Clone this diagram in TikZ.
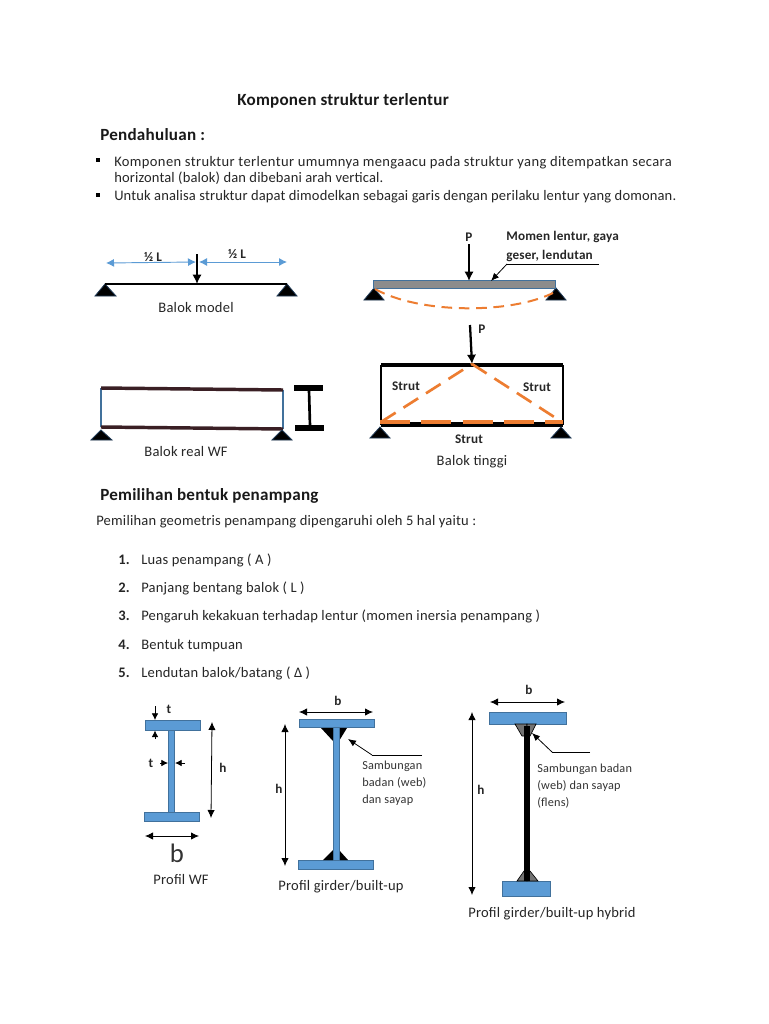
\documentclass[tikz,border=0pt]{standalone}
\usepackage{fontspec}
\setmainfont{Carlito}[LetterSpace=1.5]
\newfontfamily\lineA{Carlito}[LetterSpace=2.6]
\newfontfamily\lineB{Carlito}[LetterSpace=1.0]
\usetikzlibrary{arrows.meta}
\definecolor{steel}{HTML}{5B9BD5}
\definecolor{steeld}{HTML}{41719C}
\definecolor{orng}{HTML}{ED7D31}
\definecolor{dimb}{HTML}{5B9BD5}
\definecolor{navy}{HTML}{1F3A56}
\definecolor{maroon}{HTML}{3A1F24}
\tikzset{
  x=0.75pt,y=-0.75pt,
  txt/.style={inner sep=0pt,font=\fontsize{10.9pt}{14pt}\selectfont,text=black!85,anchor=base west},
  bt/.style={txt,font=\fontsize{10.9pt}{14pt}\selectfont\bfseries},
  head/.style={inner sep=0pt,font=\fontsize{12.8pt}{14pt}\selectfont\bfseries,text=black!90,anchor=base west},
  lab/.style={inner sep=0pt,font=\fontsize{9.9pt}{12pt}\selectfont\bfseries,text=black!85},
  labw/.style={lab,anchor=base west},
  small/.style={inner sep=0pt,font=\fontsize{9.2pt}{12pt}\selectfont,text=black!80,anchor=base west},
  support/.style={fill=black,draw=navy,line width=0.6pt},
  load/.style={draw=black,line width=1.7pt,-{Latex[length=7pt,width=7pt]}},
  dimblue/.style={draw=dimb,line width=0.7pt,{Latex[length=6pt,width=6pt]}-{Latex[length=6pt,width=6pt]}},
  dimk/.style={draw=black,line width=0.6pt,{Latex[length=6pt,width=5.5pt]}-{Latex[length=6pt,width=5.5pt]}},
  tick/.style={draw=black,line width=0.6pt,-{Latex[length=5pt,width=5pt]}},
  plate/.style={fill=steel,draw=steeld,line width=0.6pt},
  weld/.style={fill=black!55,draw=black,line width=0.5pt},
  bullet/.style={fill=black,inner sep=0pt,minimum size=3.4pt},
  leader/.style={draw=black,line width=0.6pt,-{Latex[length=6pt,width=5pt]}},
}
\begin{document}
\begin{tikzpicture}
\useasboundingbox (0,0) rectangle (768,1024);
\fill[white] (0,0) rectangle (768,1024);
% headings and body
\node[head] (h1) at (237,105) {Komponen struktur terlentur};
\node[head] (h2) at (100,140) {Pendahuluan :};
\node[bullet] (b1) at (98,160) {};
\node[txt] (p1) at (114,166) {\lineA Komponen struktur terlentur umumnya mengaacu pada struktur yang ditempatkan secara};
\node[txt] (p1b) at (114,182) {\lineB horizontal (balok) dan dibebani arah vertical.};
\node[bullet] (b2) at (98,195) {};
\node[txt] (p2) at (114,200) {\lineB Untuk analisa struktur dapat dimodelkan sebagai garis dengan perilaku lentur yang domonan.};
% Balok model
\coordinate (ma) at (105,284);
\coordinate (mb) at (287,284);
\coordinate (mc) at (197,284);
\coordinate (mt) at (197,254);
\fill[support] (ma) -- (95,296) -- (116,296) -- cycle;
\fill[support] (mb) -- (277,296) -- (297,296) -- cycle;
\draw[black,line width=1.5pt] (ma) -- (mb);
\draw[load] (mt) -- (mc);
\coordinate (d1) at (106,263); \coordinate (d2) at (196,262); \coordinate (d3) at (199,262); \coordinate (d4) at (287,262);
\draw[dimblue] (d1) -- (d2);
\draw[dimblue] (d3) -- (d4);
\node[lab] (lh1) at (153,257) {½ L};
\node[lab] (lh2) at (237,254) {½ L};
\node[txt,anchor=base] (c1) at (196,312) {Balok model};
% Balok real WF
\coordinate (ra) at (101,388); \coordinate (rb) at (283,390);
\coordinate (rc) at (101,427); \coordinate (rd) at (283,429);
\draw[steeld,line width=1.8pt] (ra) -- (rc);
\draw[steeld,line width=1.8pt] (rb) -- (rd);
\draw[maroon,line width=2.6pt] (ra) -- (rb);
\draw[maroon,line width=2.6pt] (rc) -- (rd);
\fill[support] (101,430) -- (91,440) -- (112,440) -- cycle;
\fill[support] (282,430) -- (272,440) -- (292,440) -- cycle;
\fill[black] (294,385) rectangle (323,391);
\fill[black] (295,425) rectangle (324,431);
\draw[black,line width=2pt] (309,390) -- (310,426);
\node[txt,anchor=base] (c2) at (186,456) {Balok real WF};
% Beam with P
\fill[support] (374,288) -- (364,300) -- (384,300) -- cycle;
\fill[support] (556,288) -- (546,300) -- (566,300) -- cycle;
\node[fill=black!45,draw=steeld,line width=0.8pt,minimum width=137pt,minimum height=5.5pt,inner sep=0pt] (beam) at (464.5,284.5) {};
\draw[orng,line width=1.5pt,dash pattern=on 8pt off 5pt] (375,289) .. controls (420,314) and (510,314) .. (553,293);
\node[lab] (P1) at (469,237) {P};
\draw[load] (469,244) -- (469,281);
\node[labw] (mm1) at (506,240) {Momen lentur, gaya};
\node[labw] (mm2) at (506,259) {geser, lendutan};
\coordinate (lm) at (599,264); \coordinate (lk) at (507,264); \coordinate (lt) at (491,281);
\draw[black,line width=0.6pt] (lm) -- (lk);
\draw[leader] (lk) -- (lt);
% Balok tinggi
\coordinate (ta) at (381,365); \coordinate (tb) at (563,365);
\coordinate (tc) at (381,424.5); \coordinate (td) at (563,424.5);
\draw[black,line width=1.2pt] (ta) -- (tc);
\draw[black,line width=1.2pt] (tb) -- (td);
\draw[black,line width=3.4pt] (ta) -- (tb);
\draw[black,line width=3.6pt] (tc) -- (td);
\fill[support] (380,427) -- (370,438) -- (390,438) -- cycle;
\fill[support] (561,427) -- (551,438) -- (571,438) -- cycle;
\coordinate (tp) at (472,364);
\draw[load] (470,325) -- (tp);
\node[lab] (P2) at (482,329) {P};
\draw[orng,line width=2pt,dash pattern=on 13pt off 7pt] (381,422) -- (tp);
\draw[orng,line width=2pt,dash pattern=on 13pt off 7pt] (tp) -- (562,422);
\draw[orng,line width=2.6pt,dash pattern=on 22.5pt off 8.5pt] (380,422) -- (563,422);
\node[lab] (s1) at (406,386) {Strut};
\node[lab] (s2) at (537,387) {Strut};
\node[lab] (s3) at (469,439) {Strut};
\node[txt,anchor=base] (c3) at (472,465) {Balok tinggi};
% section two
\node[head] (h3) at (100,500) {Pemilihan bentuk penampang};
\node[txt] (p3) at (96,525) {Pemilihan geometris penampang dipengaruhi oleh 5 hal yaitu :};
\node[bt] (n1) at (118,564) {1.};\node[txt] (t1) at (141,564) {Luas penampang ( A )};
\node[bt] (n2) at (118,592) {2.};\node[txt] (t2) at (141,592) {Panjang bentang balok ( L )};
\node[bt] (n3) at (118,620) {3.};\node[txt] (t3) at (141,620) {Pengaruh kekakuan terhadap lentur (momen inersia penampang )};
\node[bt] (n4) at (118,649) {4.};\node[txt] (t4) at (141,649) {Bentuk tumpuan};
\node[bt] (n5) at (118,677) {5.};\node[txt] (t5) at (141,677) {Lendutan balok/batang ( Δ )};
% Profil WF
\draw[plate] (145,720) rectangle (200,730);
\draw[plate] (144,812) rectangle (199,821);
\draw[plate] (168,730) rectangle (174,812);
\coordinate (wt1) at (155,706); \coordinate (wt2) at (155,720);
\coordinate (wt3) at (155,739); \coordinate (wt4) at (155,730.5);
\draw[tick] (wt1) -- (wt2);
\draw[tick] (wt3) -- (wt4);
\node[lab] (lt1) at (169,709) {t};
\node[lab] (lt2) at (151,763) {t};
\coordinate (wa) at (160,763); \coordinate (wb) at (168,763); \coordinate (wc) at (185,763); \coordinate (wd) at (175,763);
\draw[tick] (wa) -- (wb);
\draw[tick] (wc) -- (wd);
\draw[dimk] (212,722) -- (211,818);
\node[lab] (lh) at (223,768) {h};
\draw[dimk] (145,836) -- (199,836);
\node[inner sep=0pt,font=\fontsize{20pt}{20pt}\selectfont,text=black!80] (lb) at (177,853) {b};
\node[txt,anchor=base] (c4) at (181,884) {Profil WF};
% Profil girder
\draw[plate] (299,719) rectangle (374,727);
\draw[plate] (298,860) rectangle (373,869);
\fill[black] (321,728) -- (347,728) -- (339,741) -- (333,741) -- cycle;
\fill[black] (323,860) -- (348,860) -- (339,850) -- (333,850) -- cycle;
\draw[plate] (333,727) rectangle (339,860);
\draw[dimk] (299,712) -- (373,712);
\node[lab] (lb2) at (338,701) {b};
\draw[dimk] (285,724) -- (285,866);
\node[lab] (lh2b) at (279,789) {h};
\coordinate (ga) at (422,755); \coordinate (gb) at (372,755); \coordinate (gc) at (348,739);
\draw[black,line width=0.6pt] (ga) -- (gb);
\draw[leader] (gb) -- (gc);
\node[small] (g1) at (362,769) {Sambungan};
\node[small] (g2) at (362,786) {badan (web)};
\node[small] (g3) at (362,803) {dan sayap};
\node[txt,anchor=base] (c5) at (341,890) {Profil girder/built-up};
% Profil hybrid
\draw[plate] (489,712) rectangle (566,724);
\draw[plate] (502,881) rectangle (550,896);
\draw[weld] (515,724) -- (527,724) -- (527,736) -- (522,736) -- cycle;
\draw[weld] (536,724) -- (527,724) -- (527,736) -- (530,736) -- cycle;
\draw[weld] (517,881) -- (527,881) -- (527,871) -- (524,871) -- cycle;
\draw[weld] (538,881) -- (527,881) -- (527,871) -- (530,871) -- cycle;
\fill[black] (524,726) rectangle (530,881);
\draw[dimk] (490,702) -- (565,702);
\node[lab] (lb3) at (529,690) {b};
\draw[dimk] (472,712) -- (472,895);
\node[lab] (lh3) at (481,790) {h};
\coordinate (ha) at (590,752); \coordinate (hb) at (552,752); \coordinate (hc) at (532,733);
\draw[black,line width=0.6pt] (ha) -- (hb);
\draw[leader] (hb) -- (hc);
\node[small] (k1) at (537,772) {Sambungan badan};
\node[small] (k2) at (537,789) {(web) dan sayap};
\node[small] (k3) at (537,806) {(flens)};
\node[txt,anchor=base] (c6) at (552,917) {Profil girder/built-up hybrid};
\end{tikzpicture}
\end{document}
